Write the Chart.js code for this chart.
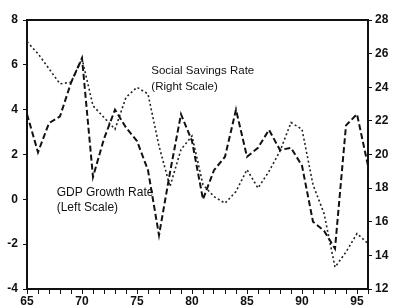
<!DOCTYPE html>
<html>
<head>
<meta charset="utf-8">
<script src="https://cdn.jsdelivr.net/npm/chart.js@4/dist/chart.umd.min.js"></script>
<style>
  html, body { margin: 0; padding: 0; background: #ffffff; }
  #wrap { width: 396px; height: 306px; position: relative; }
</style>
</head>
<body>
<div id="wrap"><canvas id="c" width="396" height="306"></canvas></div>
<script>
// ---- data ----
const years = [1965,1966,1967,1968,1969,1970,1971,1972,1973,1974,1975,1976,1977,1978,1979,1980,
               1981,1982,1983,1984,1985,1986,1987,1988,1989,1990,1991,1992,1993,1994,1995,1996];
const gdpGrowth = [3.8,2.1,3.4,3.7,5.2,6.3,1.0,2.7,4.0,3.2,2.6,1.3,-1.6,1.2,3.8,2.6,
                   0.0,1.3,1.9,4.0,1.9,2.3,3.1,2.2,2.3,1.5,-1.0,-1.4,-2.2,3.3,3.8,1.5];
const savingsRate = [26.7,26.0,25.1,24.2,24.3,25.7,22.9,22.2,21.5,23.4,24.0,23.6,20.5,18.1,20.3,21.1,
                     18.2,17.5,17.1,17.8,19.1,18.0,19.0,20.2,21.9,21.5,18.2,16.5,13.3,14.2,15.3,14.7];
const leftTicks = [-4,-2,0,2,4,6,8];
const rightTicks = [12,14,16,18,20,22,24,26,28];
const xLabelYears = [1965,1970,1975,1980,1985,1990,1995];
const labelSavings = ["Social Savings Rate", "(Right Scale)"];
const labelGdp = ["GDP Growth Rate", "(Left Scale)"];

const INK = '#111111';
const FONT = '"Liberation Sans", Arial, Helvetica, sans-serif';

const annotations = {
  id: 'annotations',
  afterDatasetsDraw(chart) {
    const {ctx, scales} = chart;
    ctx.save();
    ctx.fillStyle = INK;
    ctx.textBaseline = 'middle';
    ctx.textAlign = 'left';
    ctx.font = '11.5px ' + FONT;
    const sx = scales.x.getPixelForValue(1976.3);
    ctx.fillText(labelSavings[0], sx, scales.y1.getPixelForValue(25.0));
    ctx.fillText(labelSavings[1], sx, scales.y1.getPixelForValue(24.0));
    ctx.font = '12px ' + FONT;
    const gx = scales.x.getPixelForValue(1967.7);
    ctx.fillText(labelGdp[0], gx, scales.y.getPixelForValue(0.28));
    ctx.fillText(labelGdp[1], gx, scales.y.getPixelForValue(-0.36));
    ctx.restore();
  }
};

new Chart(document.getElementById('c'), {
  type: 'line',
  data: {
    labels: years,
    datasets: [
      {
        label: 'GDP Growth Rate (Left Scale)',
        data: years.map((yr, i) => ({x: yr, y: gdpGrowth[i]})),
        yAxisID: 'y',
        borderColor: INK,
        borderWidth: 2,
        borderDash: [6, 3],
        pointRadius: 0,
        tension: 0,
        fill: false
      },
      {
        label: 'Social Savings Rate (Right Scale)',
        data: years.map((yr, i) => ({x: yr, y: savingsRate[i]})),
        yAxisID: 'y1',
        borderColor: '#222222',
        borderWidth: 1.6,
        borderDash: [2, 2.5],
        pointRadius: 0,
        tension: 0,
        fill: false
      }
    ]
  },
  options: {
    responsive: false,
    animation: false,
    devicePixelRatio: 1,
    layout: { padding: 0 },
    plugins: { legend: { display: false }, tooltip: { enabled: false } },
    scales: {
      x: {
        type: 'linear',
        position: 'bottom',
        min: 1965, max: 1996,
        afterFit(s) { s.height = 17; },
        afterBuildTicks(s) { s.ticks = years.map(v => ({value: v})); },
        ticks: {
          autoSkip: false,
          maxRotation: 0,
          padding: 0,
          color: INK,
          font: { family: FONT, size: 12, weight: 'bold' },
          callback: (v) => xLabelYears.includes(v) ? String(v).slice(2) : ''
        },
        grid: { drawOnChartArea: false, drawTicks: true, tickLength: 5, color: INK, tickWidth: 1 },
        border: { display: true, color: INK, width: 2 }
      },
      xTop: {
        type: 'linear',
        position: 'top',
        min: 1965, max: 1996,
        afterFit(s) { s.height = 20; },
        ticks: { display: false },
        grid: { drawOnChartArea: false, drawTicks: false },
        border: { display: true, color: INK, width: 2 }
      },
      y: {
        type: 'linear',
        position: 'left',
        min: -4, max: 8,
        afterFit(s) { s.width = 27; },
        afterBuildTicks(s) { s.ticks = leftTicks.map(v => ({value: v})); },
        ticks: { padding: 5, color: INK, font: { family: FONT, size: 12, weight: 'bold' } },
        grid: { drawOnChartArea: false, drawTicks: true, tickLength: 4, color: INK },
        border: { display: true, color: INK, width: 2 }
      },
      y1: {
        type: 'linear',
        position: 'right',
        min: 12, max: 28,
        afterFit(s) { s.width = 28; },
        afterBuildTicks(s) { s.ticks = rightTicks.map(v => ({value: v})); },
        ticks: { padding: 3, color: INK, font: { family: FONT, size: 12, weight: 'bold' } },
        grid: { drawOnChartArea: false, drawTicks: true, tickLength: 4, color: INK },
        border: { display: true, color: INK, width: 2 }
      }
    }
  },
  plugins: [annotations]
});
</script>
</body>
</html>
